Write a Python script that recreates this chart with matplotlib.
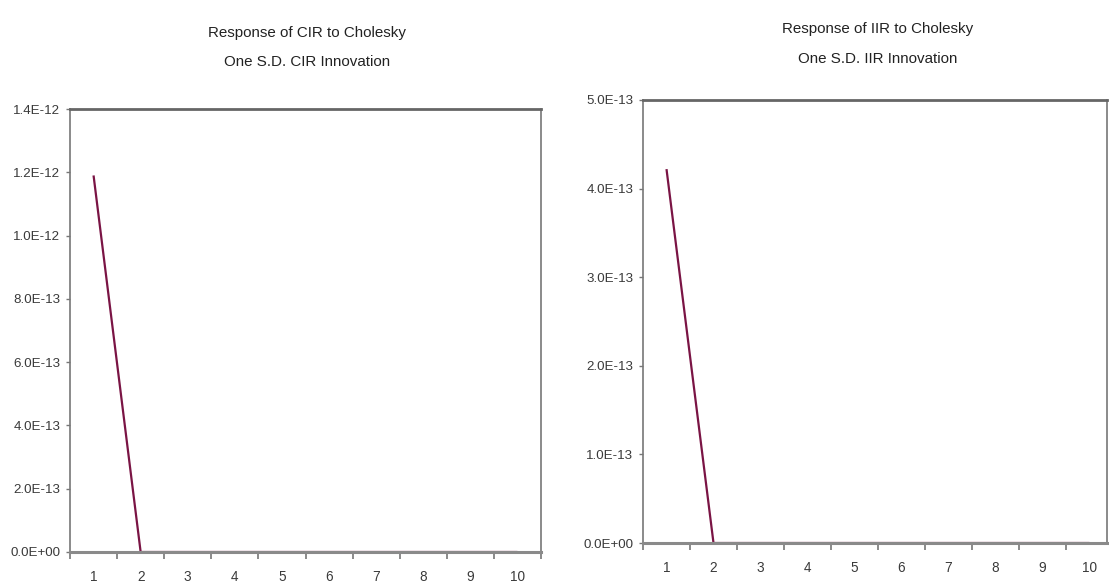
import numpy as np
import matplotlib.pyplot as plt
from matplotlib.ticker import FixedLocator, NullFormatter

plt.rcParams['font.family'] = ['Liberation Sans', 'DejaVu Sans']

periods = np.arange(1, 11)
cir_resp = [1.19e-12, 0, 0, 0, 0, 0, 0, 0, 0, 0]
iir_resp = [4.22e-13, 0, 0, 0, 0, 0, 0, 0, 0, 0]

cir_ticks = [0.0, 2e-13, 4e-13, 6e-13, 8e-13, 1e-12, 1.2e-12, 1.4e-12]
cir_labels = ['0.0E+00', '2.0E-13', '4.0E-13', '6.0E-13', '8.0E-13',
              '1.0E-12', '1.2E-12', '1.4E-12']
iir_ticks = [0.0, 1e-13, 2e-13, 3e-13, 4e-13, 5e-13]
iir_labels = ['0.0E+00', '1.0E-13', '2.0E-13', '3.0E-13', '4.0E-13', '5.0E-13']

W, H = 1109, 586
fig = plt.figure(figsize=(W / 100, H / 100), dpi=100)

# pixel boxes
ax1 = fig.add_axes([70 / W, (H - 552) / H, (541 - 70) / W, (552 - 109) / H])
ax2 = fig.add_axes([643 / W, (H - 543) / H, (1107 - 643) / W, (543 - 100) / H])

line_col = '#7a1444'
spine_col = '#777777'
text_col = '#3a3a3a'


def style(ax, ticks, labels, ymax, xmax):
    ax.set_xlim(0.5, xmax)
    ax.set_ylim(0, ymax)
    ax.set_yticks(ticks)
    ax.set_yticklabels(labels)
    ax.xaxis.set_major_locator(FixedLocator(np.arange(0.5, 11, 1.0)))
    ax.xaxis.set_major_formatter(NullFormatter())
    ax.xaxis.set_minor_locator(FixedLocator(periods))
    ax.set_xticklabels([str(p) for p in periods], minor=True)
    ax.tick_params(axis='x', which='major', direction='out', length=5,
                   width=1.2, color=spine_col)
    ax.tick_params(axis='x', which='minor', length=0, pad=13,
                   labelsize=9.8, labelcolor=text_col)
    ax.tick_params(axis='y', direction='out', length=3, width=1,
                   color=spine_col, labelsize=9.6, labelcolor=text_col, pad=4)
    for s in ax.spines.values():
        s.set_color(spine_col)
        s.set_linewidth(1.2)
    ax.spines['top'].set_linewidth(2.0)
    ax.spines['top'].set_color('#666666')
    ax.spines['bottom'].set_linewidth(2.2)
    ax.spines['bottom'].set_color('#8a8a8a')


ax1.plot(periods, cir_resp, color=line_col, lw=1.6, solid_capstyle='butt',
         zorder=1.5)
style(ax1, cir_ticks, cir_labels, 1.4e-12, 10.5)

ax2.plot(periods, iir_resp, color=line_col, lw=1.6, solid_capstyle='butt',
         zorder=1.5)
style(ax2, iir_ticks, iir_labels, 5e-13, 0.5 + (1107 - 643) / 47)

titles = [
    ('Response of CIR to Cholesky', 307, 33),
    ('One S.D. CIR Innovation', 307, 62),
    ('Response of IIR to Cholesky', 878, 29),
    ('One S.D. IIR Innovation', 878, 59),
]
for txt, px, py in titles:
    fig.text(px / W, 1 - py / H, txt, ha='center', va='center',
             fontsize=10.9, color='#222222')

fig.savefig('out.png', dpi=100)
